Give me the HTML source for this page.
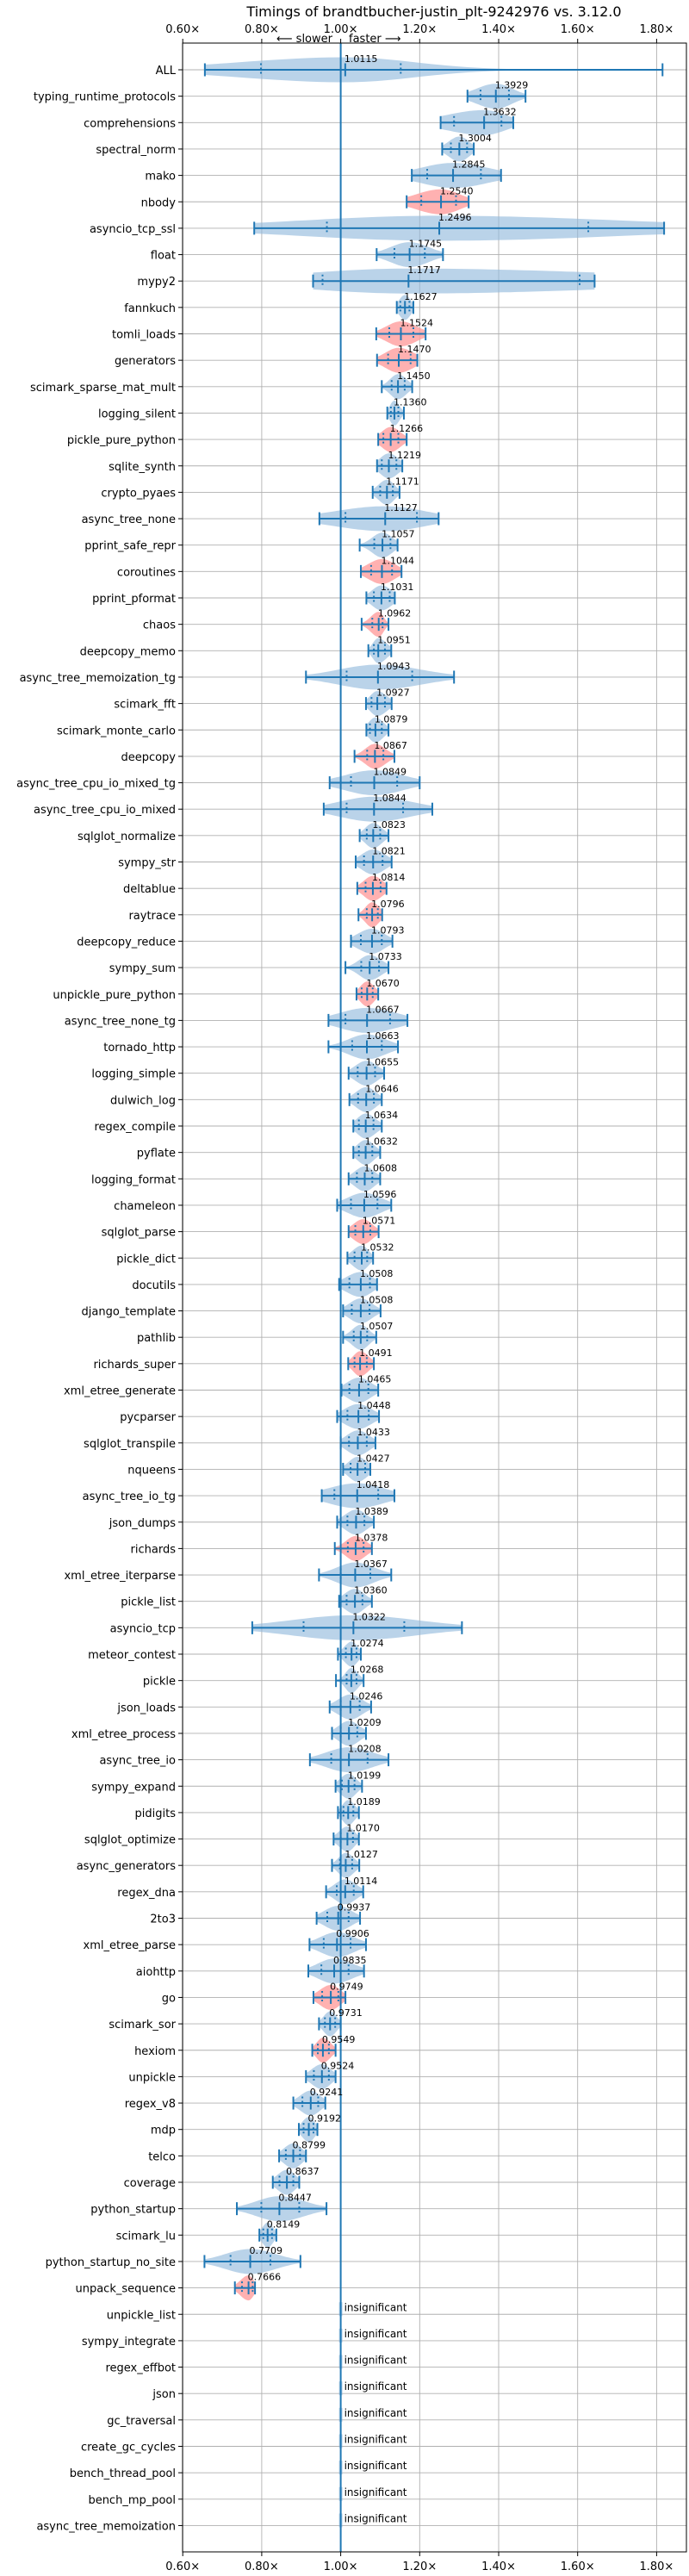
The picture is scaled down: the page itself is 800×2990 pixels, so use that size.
<!DOCTYPE html>
<html><head><meta charset="utf-8">
<style>
html,body{margin:0;padding:0;background:#fff;}
svg{display:block;font-family:"DejaVu Sans","Liberation Sans",sans-serif;}
</style></head>
<body>
<svg id="chart" width="800" height="2990" viewBox="0 0 800 2990" xmlns="http://www.w3.org/2000/svg">
<rect x="0" y="0" width="800" height="2990" fill="#fff"/>
<text x="504" y="19" font-size="16" text-anchor="middle" fill="#000">Timings of brandtbucher-justin_plt-9242976 vs. 3.12.0</text>
<text x="386" y="49" font-size="13" text-anchor="end" fill="#000">⟵ slower</text>
<text x="405" y="49" font-size="13" text-anchor="start" fill="#000">faster ⟶</text>
<g id="grid"></g>
<g id="violins"></g>
<g id="axes"></g>
</svg>
<script>
const benchmarks = ["ALL","typing_runtime_protocols","comprehensions","spectral_norm","mako","nbody","asyncio_tcp_ssl","float","mypy2","fannkuch","tomli_loads","generators","scimark_sparse_mat_mult","logging_silent","pickle_pure_python","sqlite_synth","crypto_pyaes","async_tree_none","pprint_safe_repr","coroutines","pprint_pformat","chaos","deepcopy_memo","async_tree_memoization_tg","scimark_fft","scimark_monte_carlo","deepcopy","async_tree_cpu_io_mixed_tg","async_tree_cpu_io_mixed","sqlglot_normalize","sympy_str","deltablue","raytrace","deepcopy_reduce","sympy_sum","unpickle_pure_python","async_tree_none_tg","tornado_http","logging_simple","dulwich_log","regex_compile","pyflate","logging_format","chameleon","sqlglot_parse","pickle_dict","docutils","django_template","pathlib","richards_super","xml_etree_generate","pycparser","sqlglot_transpile","nqueens","async_tree_io_tg","json_dumps","richards","xml_etree_iterparse","pickle_list","asyncio_tcp","meteor_contest","pickle","json_loads","xml_etree_process","async_tree_io","sympy_expand","pidigits","sqlglot_optimize","async_generators","regex_dna","2to3","xml_etree_parse","aiohttp","go","scimark_sor","hexiom","unpickle","regex_v8","mdp","telco","coverage","python_startup","scimark_lu","python_startup_no_site","unpack_sequence"];
const insignificant = ["unpickle_list","sympy_integrate","regex_effbot","json","gc_traversal","create_gc_cycles","bench_thread_pool","bench_mp_pool","async_tree_memoization"];
const medians = [1.0115,1.3929,1.3632,1.3004,1.2845,1.2540,1.2496,1.1745,1.1717,1.1627,1.1524,1.1470,1.1450,1.1360,1.1266,1.1219,1.1171,1.1127,1.1057,1.1044,1.1031,1.0962,1.0951,1.0943,1.0927,1.0879,1.0867,1.0849,1.0844,1.0823,1.0821,1.0814,1.0796,1.0793,1.0733,1.0670,1.0667,1.0663,1.0655,1.0646,1.0634,1.0632,1.0608,1.0596,1.0571,1.0532,1.0508,1.0508,1.0507,1.0491,1.0465,1.0448,1.0433,1.0427,1.0418,1.0389,1.0378,1.0367,1.0360,1.0322,1.0274,1.0268,1.0246,1.0209,1.0208,1.0199,1.0189,1.0170,1.0127,1.0114,0.9937,0.9906,0.9835,0.9749,0.9731,0.9549,0.9524,0.9241,0.9192,0.8799,0.8637,0.8447,0.8149,0.7709,0.7666];
const mins = [0.656,1.321,1.253,1.257,1.180,1.167,0.781,1.091,0.930,1.142,1.090,1.092,1.104,1.118,1.095,1.092,1.081,0.946,1.048,1.051,1.065,1.053,1.070,0.912,1.064,1.065,1.035,0.972,0.957,1.048,1.038,1.042,1.045,1.026,1.012,1.040,0.969,0.969,1.020,1.022,1.032,1.032,1.020,0.991,1.020,1.017,0.996,1.006,1.006,1.019,1.002,0.991,1.000,1.006,0.952,0.991,0.985,0.945,0.996,0.776,0.993,0.988,0.972,0.978,0.922,0.987,0.993,0.982,0.978,0.963,0.939,0.921,0.918,0.931,0.945,0.928,0.912,0.880,0.894,0.844,0.828,0.737,0.794,0.655,0.732];
const maxs = [1.815,1.468,1.437,1.337,1.406,1.324,1.819,1.259,1.643,1.184,1.215,1.194,1.181,1.160,1.167,1.156,1.149,1.248,1.144,1.154,1.137,1.121,1.128,1.287,1.129,1.121,1.136,1.200,1.232,1.121,1.129,1.116,1.105,1.131,1.121,1.095,1.169,1.145,1.110,1.104,1.104,1.100,1.100,1.128,1.096,1.082,1.092,1.101,1.090,1.084,1.095,1.097,1.088,1.075,1.136,1.084,1.079,1.128,1.079,1.307,1.051,1.058,1.077,1.064,1.121,1.054,1.046,1.046,1.047,1.057,1.049,1.064,1.059,1.012,1.000,0.987,0.987,0.961,0.941,0.912,0.895,0.964,0.837,0.898,0.783];
const q1s = [0.798,1.354,1.287,1.279,1.219,1.204,0.965,1.136,0.954,1.151,1.123,1.120,1.129,1.127,1.108,1.104,1.100,1.012,1.085,1.077,1.084,1.080,1.084,1.015,1.078,1.074,1.067,1.026,1.015,1.066,1.059,1.063,1.066,1.051,1.052,1.053,1.012,1.029,1.043,1.044,1.046,1.046,1.041,1.026,1.037,1.035,1.022,1.028,1.033,1.035,1.022,1.017,1.021,1.025,0.984,1.017,1.018,1.000,1.015,0.906,1.013,1.015,1.000,1.000,0.976,1.003,1.007,1.000,0.998,0.990,0.966,0.957,0.951,0.953,0.960,0.942,0.932,0.903,0.906,0.861,0.845,0.799,0.804,0.721,0.750];
const q3s = [1.152,1.426,1.407,1.320,1.355,1.292,1.627,1.213,1.605,1.174,1.184,1.177,1.162,1.146,1.146,1.141,1.132,1.193,1.126,1.130,1.124,1.106,1.112,1.181,1.112,1.104,1.108,1.143,1.158,1.100,1.106,1.101,1.094,1.104,1.097,1.081,1.125,1.104,1.087,1.084,1.083,1.080,1.080,1.093,1.075,1.067,1.074,1.073,1.067,1.066,1.070,1.071,1.066,1.062,1.095,1.060,1.058,1.075,1.055,1.161,1.040,1.040,1.048,1.042,1.068,1.035,1.032,1.031,1.029,1.033,1.020,1.025,1.020,0.994,0.986,0.970,0.970,0.943,0.931,0.897,0.880,0.895,0.826,0.822,0.777];
const slowerRed = ["nbody","tomli_loads","generators","pickle_pure_python","coroutines","chaos","deepcopy","deltablue","raytrace","unpickle_pure_python","sqlglot_parse","richards_super","richards","go","hexiom","unpack_sequence"];
const xTicks = [0.6,0.8,1.0,1.2,1.4,1.6,1.8];
const xTickLabels = ["0.60×","0.80×","1.00×","1.20×","1.40×","1.60×","1.80×"];

const NS = "http://www.w3.org/2000/svg";
const L = 212, R = 797, T = 50, B = 2962;
const ROW0 = 81, ROWSTEP = 30.65, HALF = 14.5;
const BLUE = "#1f77b4";
function xs(v){ return 395.6 + (v - 1) * 458.5; }
function ys(i){ return ROW0 + i * ROWSTEP; }
function mk(tag, attrs, parent){
  const el = document.createElementNS(NS, tag);
  for (const k in attrs) el.setAttribute(k, attrs[k]);
  parent.appendChild(el);
  return el;
}
const grid = document.getElementById("grid");
const vg = document.getElementById("violins");
const ax = document.getElementById("axes");
const allNames = benchmarks.concat(insignificant);

// grid
xTicks.forEach((t, i) => {
  const l = mk("line", {x1: xs(t), x2: xs(t), y1: T, y2: B, stroke: "#b0b0b0", "stroke-width": 0.9}, grid);
  
  
});
allNames.forEach((n, i) => {
  const l = mk("line", {x1: L, x2: R, y1: ys(i), y2: ys(i), stroke: "#b0b0b0", "stroke-width": 0.9}, grid);
  
  
});

// violins
function bodyPath(i){
  const y = ys(i), m = medians[i], lo = mins[i], hi = maxs[i];
  const sl = Math.max((m - q1s[i]) / 0.8, 0.004), sr = Math.max((q3s[i] - m) / 0.8, 0.004);
  const N = 40, top = [], bot = [];
  for (let k = 0; k <= N; k++){
    const v = lo + (hi - lo) * k / N;
    const s = v < m ? sl : sr;
    const h = HALF * Math.exp(-0.5 * Math.pow((v - m) / s, 2));
    top.push(xs(v).toFixed(1) + "," + (y - h).toFixed(1));
    bot.unshift(xs(v).toFixed(1) + "," + (y + h).toFixed(1));
  }
  return "M" + top.join(" L") + " L" + bot.join(" L") + " Z";
}
benchmarks.forEach((n, i) => {
  const red = slowerRed.indexOf(n) >= 0;
  const g = mk("g", {}, vg);
  
  
  const b = mk("path", {d: bodyPath(i), fill: red ? "#ff9e9e" : "#8fb8dc", "fill-opacity": red ? 0.8 : 0.62}, g);
  
  
});
insignificant.forEach((n, j) => {
  const i = benchmarks.length + j;
  const r = mk("rect", {x: xs(1) - 2, y: ys(i) - 14, width: 4, height: 16, fill: "#8fb8dc", "fill-opacity": 0.6}, vg);
  
  
});

// reference line at 1.0
const ref = mk("line", {x1: xs(1), x2: xs(1), y1: T, y2: B, stroke: BLUE, "stroke-width": 2}, vg);



benchmarks.forEach((n, i) => {
  const y = ys(i);
  const g = mk("g", {stroke: BLUE}, vg);
  
  
  mk("line", {x1: xs(mins[i]), x2: xs(maxs[i]), y1: y, y2: y, "stroke-width": 2}, g);
  [mins[i], maxs[i], medians[i]].forEach(v => {
    mk("line", {x1: xs(v), x2: xs(v), y1: y - 7.5, y2: y + 7.5, "stroke-width": 2}, g);
  });
  [q1s[i], q3s[i]].forEach(v => {
    mk("line", {x1: xs(v), x2: xs(v), y1: y - 7.5, y2: y + 7.5, "stroke-width": 2, "stroke-dasharray": "2,3"}, g);
  });
  const t = mk("text", {x: xs(medians[i]) - 1, y: y - 9, "font-size": 11, fill: "#000"}, vg);
  t.textContent = medians[i].toFixed(4);
  
  
});
insignificant.forEach((n, j) => {
  const i = benchmarks.length + j;
  const t = mk("text", {x: xs(1) + 4, y: ys(i) - 4, "font-size": 12, fill: "#000"}, vg);
  t.textContent = "insignificant";
  
  
});

// axes frame
const frame = mk("rect", {x: L, y: T, width: R - L, height: B - T, fill: "none", stroke: "#000", "stroke-width": 1}, ax);



// x ticks and labels (top and bottom)
xTicks.forEach((t, i) => {
  const x = xs(t);
  mk("line", {x1: x, x2: x, y1: T, y2: T - 5, stroke: "#000", "stroke-width": 1}, ax);
  mk("line", {x1: x, x2: x, y1: B, y2: B + 5, stroke: "#000", "stroke-width": 1}, ax);
  const tt = mk("text", {x: x, y: 38, "font-size": 13, "text-anchor": "middle", fill: "#000"}, ax);
  tt.textContent = xTickLabels[i];
  
  
  const tb = mk("text", {x: x, y: 2983, "font-size": 13, "text-anchor": "middle", fill: "#000"}, ax);
  tb.textContent = xTickLabels[i];
  
  
});

// y ticks and labels
allNames.forEach((n, i) => {
  const y = ys(i);
  mk("line", {x1: L, x2: L - 5, y1: y, y2: y, stroke: "#000", "stroke-width": 1}, ax);
  const t = mk("text", {x: L - 8, y: y + 5, "font-size": 13, "text-anchor": "end", fill: "#000"}, ax);
  t.textContent = n;
  
  
});
</script>
</body></html>
